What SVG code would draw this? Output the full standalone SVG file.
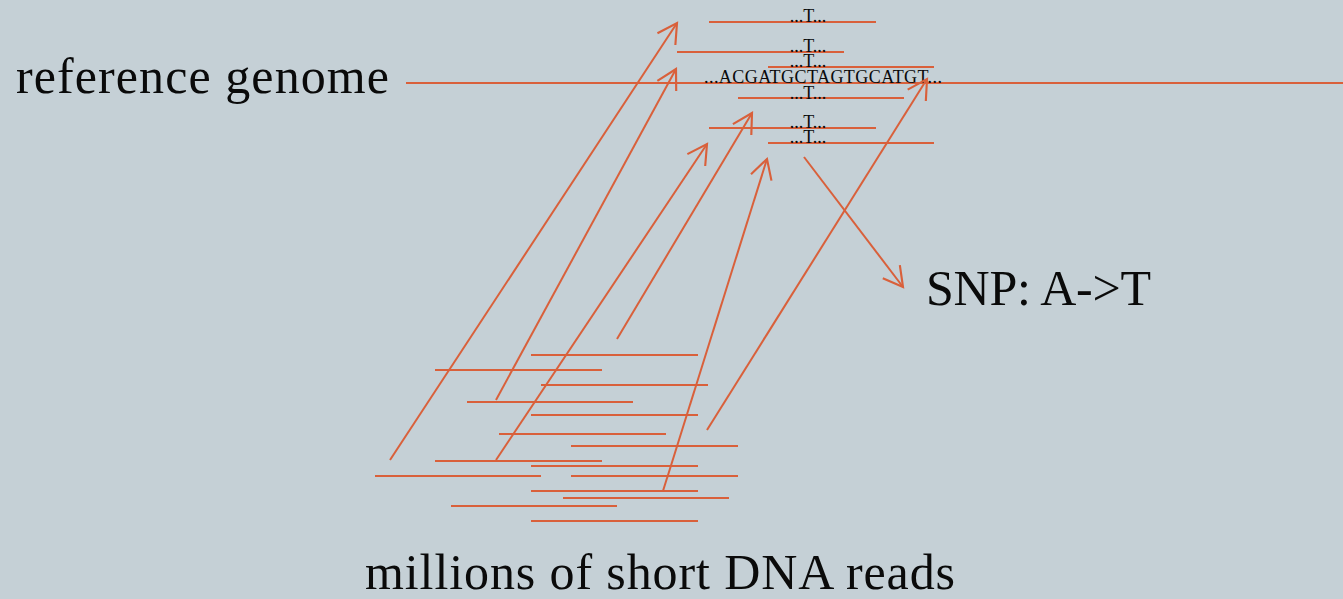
<svg xmlns="http://www.w3.org/2000/svg" width="1343" height="599" viewBox="0 0 1343 599">
<style>
.bg{fill:#c5d0d6}
.rd{stroke:#d9603b;stroke-width:2;fill:none}
.big{font-family:"Liberation Serif","Times New Roman",serif;font-size:50px;fill:#0a0a0a}
.sm{font-family:"Liberation Serif","Times New Roman",serif;font-size:18px;fill:#0a0a0a}
.t{text-anchor:middle}
</style>
<defs>
<marker id="ah" markerUnits="userSpaceOnUse" markerWidth="30" markerHeight="30" viewBox="-22 -14 26 28" refX="0" refY="0" orient="auto" overflow="visible">
<path d="M-18,-10 L0,0 L-18,10" fill="none" stroke="#d9603b" stroke-width="2"/>
</marker>
</defs>
<rect class="bg" x="0" y="0" width="1343" height="599"/>
<g id="reference-genome">
<text class="big" x="16" y="93" textLength="373" lengthAdjust="spacing">reference genome</text>
<line class="rd" x1="406" y1="83" x2="1343" y2="83"/>
<text class="sm" x="704" y="83" textLength="238" lengthAdjust="spacing">...ACGATGCTAGTGCATGT...</text>
</g>
<g id="aligned-reads">
<line class="rd" x1="709" y1="22" x2="876" y2="22"/>
<text class="sm t" x="808" y="22">...T...</text>
<line class="rd" x1="677" y1="52" x2="844" y2="52"/>
<text class="sm t" x="808" y="52">...T...</text>
<line class="rd" x1="768" y1="67" x2="934" y2="67"/>
<text class="sm t" x="808" y="67">...T...</text>
<line class="rd" x1="738" y1="98" x2="904" y2="98"/>
<text class="sm t" x="808" y="99">...T...</text>
<line class="rd" x1="709" y1="128" x2="876" y2="128"/>
<text class="sm t" x="808" y="128">...T...</text>
<line class="rd" x1="768" y1="143" x2="934" y2="143"/>
<text class="sm t" x="808" y="143">...T...</text>
</g>
<g id="short-reads">
<line class="rd" x1="531" y1="355" x2="698" y2="355"/>
<line class="rd" x1="435" y1="370" x2="602" y2="370"/>
<line class="rd" x1="541" y1="385" x2="708" y2="385"/>
<line class="rd" x1="467" y1="402" x2="633" y2="402"/>
<line class="rd" x1="531" y1="415" x2="698" y2="415"/>
<line class="rd" x1="499" y1="434" x2="666" y2="434"/>
<line class="rd" x1="571" y1="446" x2="738" y2="446"/>
<line class="rd" x1="435" y1="461" x2="602" y2="461"/>
<line class="rd" x1="531" y1="466" x2="698" y2="466"/>
<line class="rd" x1="375" y1="476" x2="541" y2="476"/>
<line class="rd" x1="571" y1="476" x2="738" y2="476"/>
<line class="rd" x1="531" y1="491" x2="698" y2="491"/>
<line class="rd" x1="563" y1="498" x2="729" y2="498"/>
<line class="rd" x1="451" y1="506" x2="617" y2="506"/>
<line class="rd" x1="531" y1="521" x2="698" y2="521"/>
<text class="big" x="365" y="589" textLength="590" lengthAdjust="spacing">millions of short DNA reads</text>
</g>
<g id="snp-label">
<text class="big" x="926" y="305" textLength="225" lengthAdjust="spacing">SNP: A-&gt;T</text>
</g>
<g id="connectors">
<line class="rd" x1="390" y1="460" x2="677" y2="23" marker-end="url(#ah)"/>
<line class="rd" x1="496" y1="400" x2="676" y2="69" marker-end="url(#ah)"/>
<line class="rd" x1="496" y1="460" x2="707" y2="144" marker-end="url(#ah)"/>
<line class="rd" x1="617" y1="339" x2="752" y2="113" marker-end="url(#ah)"/>
<line class="rd" x1="663" y1="491" x2="767" y2="159" marker-end="url(#ah)"/>
<line class="rd" x1="707" y1="430" x2="927" y2="79" marker-end="url(#ah)"/>
<line class="rd" x1="804" y1="157" x2="903" y2="287" marker-end="url(#ah)"/>
</g>
</svg>
